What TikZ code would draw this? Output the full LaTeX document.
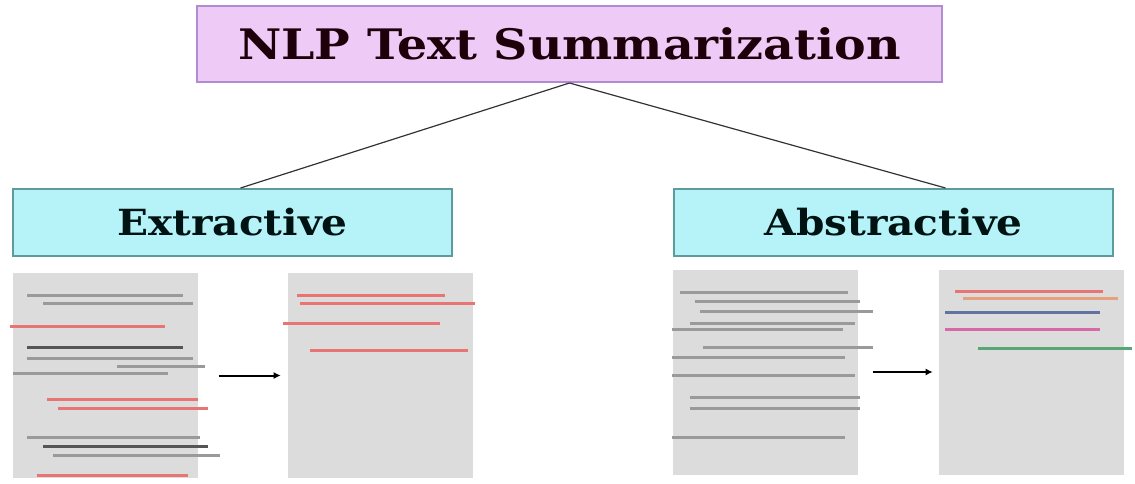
\documentclass[tikz,border=0pt]{standalone}
\usepackage{fontspec}
\setmainfont{DejaVu Serif}
\newfontfamily\titlefont{DejaVu Serif}[FakeStretch=1.13]
\usetikzlibrary{positioning,arrows.meta}

\definecolor{titlefill}{HTML}{EDCBF6}
\definecolor{titledraw}{HTML}{B08CD0}
\definecolor{headfill}{HTML}{B6F3F8}
\definecolor{headdraw}{HTML}{5E9C9C}
\definecolor{pagegray}{HTML}{DCDCDC}
\definecolor{lgray}{HTML}{9A9A9A}
\definecolor{dgray}{HTML}{555555}
\definecolor{lred}{HTML}{E87474}
\definecolor{ltan}{HTML}{E6A27E}
\definecolor{lblue}{HTML}{61739E}
\definecolor{lpink}{HTML}{D869A8}
\definecolor{lgreen}{HTML}{56A676}

\tikzset{
    headbox/.style={draw=headdraw,fill=headfill,line width=2pt,rectangle,
        minimum width=439pt,minimum height=67pt,inner sep=0pt,
        font=\titlefont\fontsize{36}{40}\selectfont\bfseries,text=black!85!teal},
    page/.style={fill=pagegray,rectangle,minimum width=185pt,
        minimum height=205pt,inner sep=0pt},
    textline/.style={line width=3pt},
    flow/.style={-{Latex[length=7pt,width=7pt]},line width=2pt},
}

\begin{document}
\begin{tikzpicture}[x=1pt,y=-1pt]
    \useasboundingbox (0,0) rectangle (1135,484);

    \node[draw=titledraw,fill=titlefill,line width=2pt,rectangle,
        minimum width=745pt,minimum height=76pt,inner sep=0pt,
        font=\titlefont\fontsize{42}{48}\selectfont\bfseries,text=black!85!purple]
        (title) at (569.5,44) {NLP Text Summarization};

    \node[headbox] (extr) at (232.5,222.5) {Extractive};
    \node[headbox] (abstr) at (893.5,222.5) {Abstractive};

    \draw[line width=1.2pt,black!80] (title.south) -- ([xshift=8pt]extr.north);
    \draw[line width=1.2pt,black!80] (title.south) -- ([xshift=52pt]abstr.north);

    % pages
    \node[page] (d1) at (105,375.5) {};
    \node[page,right=90pt of d1] (d2) {};
    \node[page] (d3) at (765,372) {};
    \node[page,right=81pt of d3] (d4) {};

    \foreach \y/\a/\b/\c in {295/27/183/lgray, 303/43/193/lgray,
        326/10/165/lred, 347/27/183/dgray, 358/27/193/lgray,
        366/117/205/lgray, 373/13/168/lgray, 399/47/198/lred,
        408/58/208/lred, 437/27/200/lgray, 446/43/208/dgray,
        455/53/220/lgray, 475/37/188/lred}
        \draw[textline,\c] (\a,\y) -- (\b,\y);

    \foreach \y/\a/\b in {295/297/445, 303/300/475, 323/283/440, 350/310/468}
        \draw[textline,lred] (\a,\y) -- (\b,\y);

    \foreach \y/\a/\b in {292/680/848, 301/695/860, 311/700/873,
        323/690/855, 329/672/843, 347/703/873, 357/672/845,
        375/672/855, 397/690/860, 408/690/860, 437/672/845}
        \draw[textline,lgray] (\a,\y) -- (\b,\y);

    \foreach \y/\a/\b/\c in {291/955/1103/lred, 298/963/1118/ltan,
        312/945/1100/lblue, 329/945/1100/lpink, 348/978/1132/lgreen}
        \draw[textline,\c] (\a,\y) -- (\b,\y);

    \draw[flow] ([xshift=21pt]d1.east) -- ([xshift=-7pt]d2.west);
    \draw[flow] ([xshift=15pt]d3.east) -- ([xshift=-6pt]d4.west);
\end{tikzpicture}
\end{document}
